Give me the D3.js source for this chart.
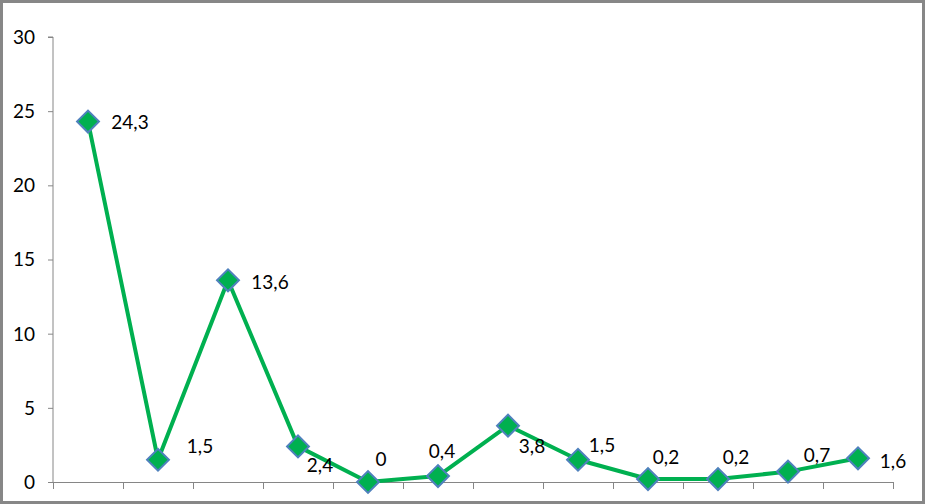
<!DOCTYPE html>
<html>
<head>
<meta charset="utf-8">
<script src="https://cdn.jsdelivr.net/npm/d3@7"></script>
<style>
  html, body { margin: 0; padding: 0; background: #fff; }
  svg text { font-family: Lato, "Open Sans", sans-serif; fill: #000; }
</style>
</head>
<body>
<svg id="chart" width="925" height="504"></svg>
<script>
// ---- data ----
const categories = ["1", "2", "3", "4", "5", "6", "7", "8", "9", "10", "11", "12"];
const values = [24.3, 1.5, 13.6, 2.4, 0, 0.4, 3.8, 1.5, 0.2, 0.2, 0.7, 1.6];
const valueLabels = ["24,3", "1,5", "13,6", "2,4", "0", "0,4", "3,8", "1,5", "0,2", "0,2", "0,7", "1,6"];
const yTicks = [0, 5, 10, 15, 20, 25, 30];

// ---- label placement (offset of label centre from marker) ----
const labelDx = [42, 42, 42, 22, 13, 4, 24, 24, 18, 18, 29, 35];
const labelDy = [1, -13, 2, 19, -23, -25, 21, -14, -22, -22, -16, 3];

const svg = d3.select("#chart");
const W = 925, H = 504;
const margin = { left: 53, right: 32, top: 37, bottom: 22 };

// outer border
svg.append("rect")
  .attr("x", 1.5).attr("y", 1.5)
  .attr("width", W - 3).attr("height", H - 3)
  .attr("fill", "#fff").attr("stroke", "#878787").attr("stroke-width", 3);

const x = d3.scaleBand()
  .domain(categories)
  .range([margin.left, W - margin.right])
  .padding(0);

const y = d3.scaleLinear()
  .domain([0, 30])
  .range([H - margin.bottom, margin.top]);

// y axis
const yAxis = svg.append("g")
  .attr("transform", `translate(${margin.left},0)`)
  .call(d3.axisLeft(y).tickValues(yTicks).tickSize(5).tickPadding(13).tickFormat(d3.format("d")));
yAxis.select(".domain").attr("stroke", "#868686").attr("d", `M-5,${y(30)}H0V${y(0)}`);
yAxis.selectAll(".tick line").attr("stroke", "#868686");
yAxis.selectAll(".tick text").style("font-size", "19px").attr("dy", "0.34em");

// x axis (tick marks between categories)
const xAxisG = svg.append("g").attr("transform", `translate(0,${y(0)})`);
xAxisG.append("line")
  .attr("x1", x.range()[0]).attr("x2", x.range()[1])
  .attr("y1", 0.5).attr("y2", 0.5)
  .attr("stroke", "#868686");
const boundaries = categories.map(c => x(c)).concat([x.range()[1]]);
xAxisG.selectAll("line.tk").data(boundaries).enter().append("line")
  .attr("class", "tk")
  .attr("x1", d => Math.round(d) + 0.5).attr("x2", d => Math.round(d) + 0.5)
  .attr("y1", 0).attr("y2", 7)
  .attr("stroke", "#868686");

const cx = i => x(categories[i]) + x.bandwidth() / 2;

// line
const line = d3.line()
  .x((d, i) => cx(i))
  .y(d => y(d));
svg.append("path")
  .datum(values)
  .attr("d", line)
  .attr("fill", "none")
  .attr("stroke", "#00b050")
  .attr("stroke-width", 4)
  .attr("stroke-linejoin", "round");

// markers (diamonds)
const sym = d3.symbol().type(d3.symbolSquare).size(240);
svg.selectAll("path.marker").data(values).enter().append("path")
  .attr("class", "marker")
  .attr("d", sym)
  .attr("transform", (d, i) => `translate(${cx(i)},${y(d)}) rotate(45)`)
  .attr("fill", "#00b050")
  .attr("stroke", "#4f81bd")
  .attr("stroke-width", 2);

// data labels
svg.selectAll("text.lbl").data(values).enter().append("text")
  .attr("class", "lbl")
  .attr("x", (d, i) => cx(i) + labelDx[i])
  .attr("y", (d, i) => y(d) + labelDy[i])
  .attr("text-anchor", "middle")
  .attr("dy", "0.35em")
  .style("font-size", "19px")
  .text((d, i) => valueLabels[i]);
</script>
</body>
</html>
